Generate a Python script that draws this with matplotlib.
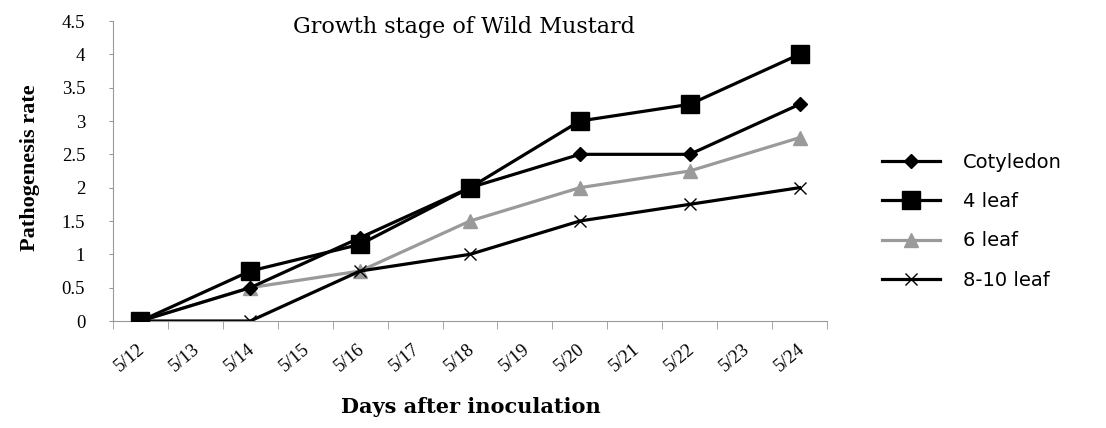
import numpy as np
import matplotlib
matplotlib.use("Agg")
import matplotlib.pyplot as plt
from matplotlib.transforms import ScaledTranslation

dates = ['5/12', '5/13', '5/14', '5/15', '5/16', '5/17', '5/18',
         '5/19', '5/20', '5/21', '5/22', '5/23', '5/24']
measured = ['5/12', '5/14', '5/16', '5/18', '5/20', '5/22', '5/24']
cotyledon = [0, 0.5, 1.25, 2, 2.5, 2.5, 3.25]
leaf4 = [0, 0.75, 1.15, 2, 3, 3.25, 4]
leaf6 = [0, 0.5, 0.75, 1.5, 2, 2.25, 2.75]
leaf8_10 = [0, 0, 0.75, 1, 1.5, 1.75, 2]
y_ticks = [0, 0.5, 1, 1.5, 2, 2.5, 3, 3.5, 4, 4.5]
y_labels = ['0', '0.5', '1', '1.5', '2', '2.5', '3', '3.5', '4', '4.5']

fig = plt.figure(figsize=(11.06, 4.28), dpi=100)
W, H = 1106, 428
ax = fig.add_axes([113 / W, 1 - 321 / H, (827 - 113) / W, (321 - 21) / H])

xpos = [dates.index(d) for d in measured]

ax.plot(xpos, cotyledon, color='black', lw=2.3, marker='D', ms=7, label='Cotyledon', zorder=4)
ax.plot(xpos, leaf4, color='black', lw=2.3, marker='s', ms=13, label='4 leaf', zorder=3)
ax.plot(xpos, leaf6, color='#9a9a9a', lw=2.3, marker='^', ms=10, label='6 leaf', zorder=2)
ax.plot(xpos, leaf8_10, color='black', lw=2.3, marker='x', ms=9, mew=1, label='8-10 leaf', zorder=2)

ax.set_xlim(-0.5, len(dates) - 0.5)
ax.set_ylim(0, 4.5)
ax.set_xticks(np.arange(len(dates)))
ax.set_xticklabels(dates, rotation=40, ha='right', family='Liberation Serif', fontsize=13.5)
ax.set_xticks(np.arange(len(dates) + 1) - 0.5, minor=True)
ax.tick_params(axis='x', which='major', length=0, pad=14)
ax.tick_params(axis='x', which='minor', length=6, color='#999999', direction='out')
off = ScaledTranslation(8 / 100, 0, fig.dpi_scale_trans)
for lab in ax.get_xticklabels():
    lab.set_transform(lab.get_transform() + off)

ax.set_yticks(y_ticks)
ax.set_yticklabels(y_labels, family='Liberation Serif', fontsize=13.5)
ax.tick_params(axis='y', length=3, color='#999999', pad=17)

for s in ['top', 'right']:
    ax.spines[s].set_visible(False)
ax.spines['left'].set_color('#999999')
ax.spines['bottom'].set_color('#999999')

fig.text(464 / W, 1 - 27 / H, 'Growth stage of Wild Mustard', ha='center', va='center',
         family='DejaVu Serif', fontsize=16)
fig.text(30 / W, 1 - 168 / H, 'Pathogenesis rate', rotation=90, ha='center', va='center',
         family='Liberation Serif', fontweight='bold', fontsize=16)
fig.text(471 / W, 1 - 407 / H, 'Days after inoculation', ha='center', va='center',
         family='DejaVu Serif', fontweight='bold', fontsize=15)

leg = fig.legend(loc='upper left', bbox_to_anchor=(864 / W, 1 - 135 / H), frameon=False,
                 prop={'family': 'DejaVu Sans', 'size': 14}, handlelength=3.0,
                 labelspacing=1.05, handletextpad=1.2)

fig.savefig('out.png', dpi=100)
